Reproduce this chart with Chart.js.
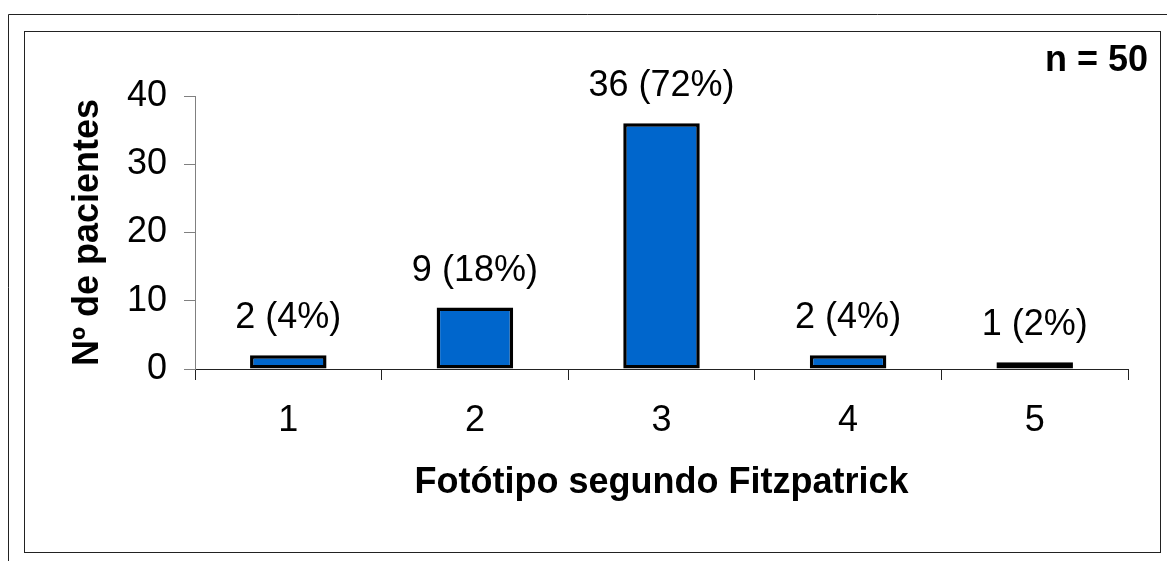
<!DOCTYPE html>
<html>
<head>
<meta charset="utf-8">
<script src="https://cdn.jsdelivr.net/npm/chart.js@4"></script>
<style>
  body { margin: 0; background: #fff; }
  canvas { display: block; }
</style>
</head>
<body>
<canvas id="fotoChart" width="1167" height="561"></canvas>
<script>
// data
const categories = ['1', '2', '3', '4', '5'];
const patients = [2, 9, 36, 2, 1];
const yTicks = [0, 10, 20, 30, 40];
const totalPatients = patients.reduce((a, b) => a + b, 0);

const FONT = "'Liberation Sans', Arial, sans-serif";
Chart.defaults.color = '#000';
Chart.defaults.font.family = FONT;

// frames around the chart + "n = 50" note
const framePlugin = {
    id: 'frames',
    beforeDraw(chart) {
        const c = chart.ctx;
        c.save();
        c.fillStyle = '#fff';
        c.fillRect(0, 0, chart.width, chart.height);
        c.strokeStyle = '#222';
        c.lineWidth = 1;
        c.beginPath();
        c.moveTo(8.5, chart.height);
        c.lineTo(8.5, 14.5);
        c.lineTo(chart.width, 14.5);
        c.stroke();
        c.strokeRect(24.5, 31.5, 1136, 521);
        c.restore();
    },
    afterDraw(chart) {
        const c = chart.ctx;
        c.save();
        c.font = 'bold 36px ' + FONT;
        c.fillStyle = '#000';
        c.textAlign = 'right';
        c.textBaseline = 'alphabetic';
        c.fillText('n = ' + totalPatients, 1148, 71);
        c.restore();
    }
};

// value labels above each bar
const barLabels = {
    id: 'barLabels',
    afterDatasetsDraw(chart) {
        const c = chart.ctx;
        const meta = chart.getDatasetMeta(0);
        c.save();
        c.font = '36px ' + FONT;
        c.fillStyle = '#000';
        c.textAlign = 'center';
        c.textBaseline = 'alphabetic';
        meta.data.forEach((bar, i) => {
            const v = patients[i];
            const pct = Math.round(v / totalPatients * 100);
            c.fillText(v + ' (' + pct + '%)', bar.x, bar.y - 27);
        });
        c.restore();
    }
};

const ctx = document.getElementById('fotoChart').getContext('2d');
const chart = new Chart(ctx, {
    type: 'bar',
    data: {
        labels: categories,
        datasets: [{
            data: patients,
            backgroundColor: '#0066CC',
            borderColor: '#000',
            borderWidth: 3.5,
            borderSkipped: false,
            categoryPercentage: 1,
            barPercentage: 0.41
        }]
    },
    options: {
        responsive: false,
        animation: false,
        layout: { padding: { left: 0, top: 96, right: 39, bottom: 0 } },
        plugins: {
            legend: { display: false },
            tooltip: { enabled: false }
        },
        scales: {
            x: {
                offset: true,
                grid: {
                    offset: true,
                    drawOnChartArea: false,
                    drawTicks: true,
                    tickLength: 11,
                    color: '#222'
                },
                border: { color: '#222', width: 1 },
                ticks: { font: { size: 36 }, padding: 19, color: '#000' },
                title: {
                    display: true,
                    text: 'Fotótipo segundo Fitzpatrick',
                    font: { size: 36, weight: 'bold' },
                    color: '#000',
                    padding: { top: 0, bottom: 56 }
                },
                afterFit(scale) { scale.height = 192; }
            },
            y: {
                min: 0,
                max: 40,
                afterBuildTicks(scale) {
                    scale.ticks = yTicks.map(v => ({ value: v }));
                },
                grid: {
                    drawOnChartArea: false,
                    drawTicks: true,
                    tickLength: 11,
                    color: '#808080'
                },
                border: { color: '#808080', width: 1 },
                ticks: { font: { size: 36 }, padding: 17, color: '#000' },
                title: {
                    display: true,
                    text: 'Nº de pacientes',
                    font: { size: 36, weight: 'bold' },
                    color: '#000',
                    padding: { top: 66, bottom: 0 }
                },
                afterFit(scale) { scale.width = 195; }
            }
        }
    },
    plugins: [framePlugin, barLabels]
});
</script>
</body>
</html>
